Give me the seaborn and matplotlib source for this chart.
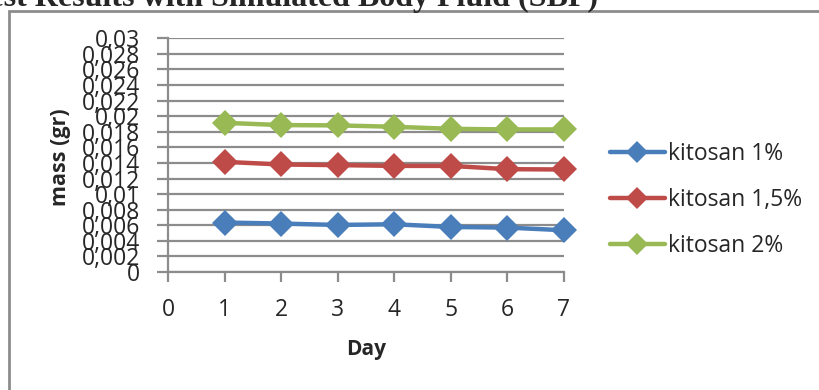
import numpy as np
import pandas as pd
import matplotlib
matplotlib.use('Agg')
import matplotlib.pyplot as plt
from matplotlib.ticker import FuncFormatter
from matplotlib.patches import Rectangle
import seaborn as sns

# data
days = [1, 2, 3, 4, 5, 6, 7]
kitosan_1 = [0.00635, 0.00622, 0.00604, 0.00613, 0.00578, 0.00570, 0.00536]
kitosan_15 = [0.01414, 0.01380, 0.01372, 0.01362, 0.01362, 0.01320, 0.01316]
kitosan_2 = [0.01915, 0.01886, 0.01882, 0.01864, 0.01838, 0.01830, 0.01830]
series_names = ['kitosan 1%', 'kitosan 1,5%', 'kitosan 2%']
colors = ['#4A7EBB', '#BE4B48', '#98B954']
y_ticks = np.arange(0, 0.0301, 0.002)
x_ticks = [0, 1, 2, 3, 4, 5, 6, 7]

df = pd.DataFrame({
    'day': days * 3,
    'mass': kitosan_1 + kitosan_15 + kitosan_2,
    'series': [s for s in series_names for _ in days],
})

sns.set_style('white')
plt.rcParams['font.family'] = ['Open Sans', 'DejaVu Sans']

W, H = 820, 390
fig = plt.figure(figsize=(W / 100, H / 100), dpi=100)
ax = fig.add_axes([168 / W, 1 - 272 / H, (564 - 168) / W, (272 - 38.3) / H])

sns.lineplot(data=df, x='day', y='mass', hue='series', hue_order=series_names,
             palette=colors, marker='D', markersize=13, markeredgewidth=0,
             linewidth=3.2, legend=False, ax=ax, clip_on=False, zorder=3)

grey = '#8c8c8c'
ax.set_xlim(0, 7)
ax.set_ylim(0, 0.03)
ax.set_xticks(x_ticks)
ax.set_yticks(y_ticks)
ax.yaxis.set_major_formatter(FuncFormatter(lambda v, _: ('%g' % round(v, 3)).replace('.', ',')))
ax.yaxis.grid(True, color=grey, lw=1.6)
ax.xaxis.grid(False)
for side in ['top', 'right']:
    ax.spines[side].set_visible(False)
for side in ['left', 'bottom']:
    ax.spines[side].set_color(grey)
    ax.spines[side].set_linewidth(1.6)
ax.tick_params(axis='y', length=8, width=1.6, color=grey, labelsize=16.5, pad=12, left=True)
ax.tick_params(axis='x', length=7, width=1.6, color=grey, labelsize=16.5, pad=12, bottom=True)

ax.set_xlabel('Day', fontsize=15, fontweight='bold', labelpad=12)
ax.set_ylabel('')
fig.text(61 / W, 1 - 157 / H, 'mass (gr)', rotation=90, fontsize=15.5,
         fontweight='bold', ha='center', va='center')

ax.legend(ax.lines[:3], series_names, loc='center left', frameon=False,
          bbox_to_anchor=(610 / W, 1 - 200 / H), bbox_transform=fig.transFigure,
          fontsize=16.5, handlelength=2.4, handletextpad=0.15, labelspacing=0.95,
          borderpad=0, borderaxespad=0, markerscale=0.9)

# outer chart border (only top and left are visible in the crop)
fig.patches.append(Rectangle((8.5 / W, -0.1), 1.2, 1 - 10.5 / H + 0.1,
                             transform=fig.transFigure, fill=False,
                             edgecolor=grey, lw=2))
fig.text(598 / W, 1 - 6 / H, 'Test Results with Simulated Body Fluid (SBF)',
         family='Liberation Serif', fontweight='bold', fontsize=23,
         ha='right', va='baseline')

fig.savefig('out.png', dpi=100)
